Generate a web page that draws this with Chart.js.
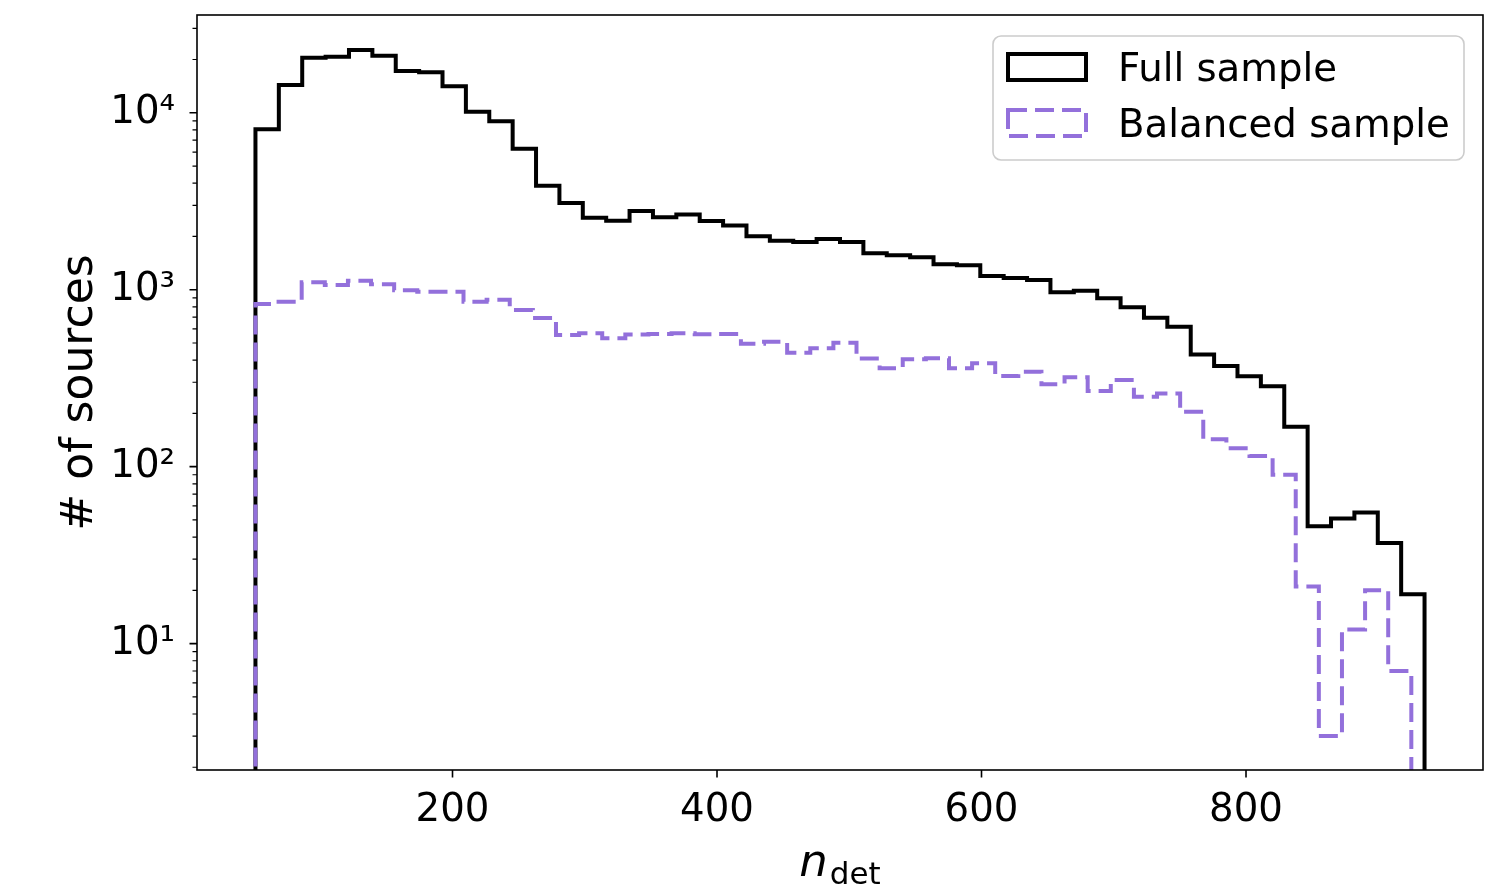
<!DOCTYPE html>
<html>
<head>
<meta charset="utf-8">
<script src="https://cdn.jsdelivr.net/npm/chart.js@4.4.1/dist/chart.umd.min.js"></script>
<style>
  html, body { margin: 0; padding: 0; background: #fff; }
  #wrap { width: 1485px; height: 887px; }
</style>
</head>
<body>
<div id="wrap"><canvas id="histChart" width="1485" height="887"></canvas></div>
<script>
// counts per bin (50 bins each)
var fullCounts = [
  8070, 14360, 20470, 20740, 22640, 21030, 17220, 16940, 14120, 10140,
  8950, 6270, 3870, 3090, 2550, 2455, 2785, 2565, 2665, 2445,
  2310, 2005, 1894, 1862, 1935, 1862, 1607, 1566, 1525, 1392,
  1375, 1196, 1165, 1135, 967, 987, 894, 795, 694, 618,
  431, 371, 324, 285, 168, 46, 51, 55, 37, 19
];
var balancedCounts = [
  830, 855, 1101, 1064, 1124, 1074, 993, 975, 975, 855,
  878, 767, 692, 555, 567, 531, 558, 562, 567, 560,
  562, 495, 508, 440, 467, 501, 409, 360, 404, 410,
  360, 384, 325, 344, 292, 320, 268, 309, 248, 259,
  204, 143, 127, 115, 90, 21, 3, 12, 20, 7
];
var fullRange = [51, 935];
var balancedRange = [51, 925];
var seriesLabels = ["Full sample", "Balanced sample"];

var xTicks = [200, 400, 600, 800];
var yMajor = [10, 100, 1000, 10000];
var yTickLabels = ["10\u00b9", "10\u00b2", "10\u00b3", "10\u2074"];
var xLimits = [6.8, 979.2];
var yLimits = [1.93, 35700];

var FONT = "DejaVu Sans";
var PURPLE = "#9370DB";

// minor log ticks 2..9 of each decade
var yMinor = [];
[1, 10, 100, 1000, 10000].forEach(function (d) {
    for (var k = 2; k <= 9; k++) {
        var v = d * k;
        if (v >= yLimits[0] && v <= yLimits[1]) yMinor.push(v);
    }
});

// outline of a step histogram: up from the floor, across each bin, back down
function stepPoints(counts, range) {
    var w = (range[1] - range[0]) / counts.length;
    var pts = [{ x: range[0], y: 1 }];
    for (var i = 0; i < counts.length; i++) {
        pts.push({ x: range[0] + i * w, y: counts[i] });
    }
    pts.push({ x: range[1], y: counts[counts.length - 1] });
    pts.push({ x: range[1], y: 1 });
    return pts;
}

var decorPlugin = {
    id: "decor",
    afterDraw: function (chart) {
        var ctx = chart.ctx;
        var a = chart.chartArea;
        var xs = chart.scales.x;
        var ys = chart.scales.y;
        ctx.save();

        // frame
        ctx.strokeStyle = "#000";
        ctx.lineWidth = 1.6;
        ctx.strokeRect(a.left, a.top, a.right - a.left, a.bottom - a.top);

        // ticks
        ctx.beginPath();
        xTicks.forEach(function (v) {
            var p = xs.getPixelForValue(v);
            ctx.moveTo(p, a.bottom);
            ctx.lineTo(p, a.bottom + 7.5);
        });
        yMajor.forEach(function (v) {
            var p = ys.getPixelForValue(v);
            ctx.moveTo(a.left, p);
            ctx.lineTo(a.left - 7.5, p);
        });
        ctx.stroke();
        ctx.lineWidth = 1.2;
        ctx.beginPath();
        yMinor.forEach(function (v) {
            var p = ys.getPixelForValue(v);
            ctx.moveTo(a.left, p);
            ctx.lineTo(a.left - 4.5, p);
        });
        ctx.stroke();

        // axis titles
        ctx.fillStyle = "#000";
        ctx.textBaseline = "alphabetic";
        ctx.font = "italic 45px '" + FONT + "'";
        var nW = ctx.measureText("n").width;
        ctx.font = "31px '" + FONT + "'";
        var subW = ctx.measureText("det").width;
        var cx = (a.left + a.right) / 2;
        var x0 = cx - (nW + 2 + subW) / 2;
        ctx.font = "italic 45px '" + FONT + "'";
        ctx.textAlign = "left";
        ctx.fillText("n", x0, 876);
        ctx.font = "31px '" + FONT + "'";
        ctx.fillText("det", x0 + nW + 2, 884);

        ctx.save();
        ctx.translate(92, (a.top + a.bottom) / 2);
        ctx.rotate(-Math.PI / 2);
        ctx.textAlign = "center";
        ctx.font = "44px '" + FONT + "'";
        ctx.fillText("# of sources", 0, 0);
        ctx.restore();

        // legend
        var bx = a.right - 490, by = a.top + 21, bw = 471, bh = 124, r = 8;
        ctx.beginPath();
        ctx.moveTo(bx + r, by);
        ctx.lineTo(bx + bw - r, by);
        ctx.arcTo(bx + bw, by, bx + bw, by + r, r);
        ctx.lineTo(bx + bw, by + bh - r);
        ctx.arcTo(bx + bw, by + bh, bx + bw - r, by + bh, r);
        ctx.lineTo(bx + r, by + bh);
        ctx.arcTo(bx, by + bh, bx, by + bh - r, r);
        ctx.lineTo(bx, by + r);
        ctx.arcTo(bx, by, bx + r, by, r);
        ctx.closePath();
        ctx.fillStyle = "rgba(255,255,255,0.8)";
        ctx.fill();
        ctx.strokeStyle = "#cccccc";
        ctx.lineWidth = 1.6;
        ctx.stroke();

        var rows = [by + 31, by + 87];
        chart.data.datasets.slice().sort(function (p, q) { return p.legendIndex - q.legendIndex; })
            .forEach(function (ds, i) {
                var cy = rows[i];
                ctx.fillStyle = "#fff";
                ctx.fillRect(bx + 15, cy - 13, 78, 26);
                ctx.strokeStyle = ds.borderColor;
                ctx.lineWidth = ds.borderWidth;
                ctx.lineJoin = "miter";
                ctx.setLineDash(ds.borderDash || []);
                ctx.strokeRect(bx + 15, cy - 13, 78, 26);
                ctx.setLineDash([]);
                ctx.fillStyle = "#000";
                ctx.font = "38.7px '" + FONT + "'";
                ctx.textAlign = "left";
                ctx.fillText(ds.label, bx + 125, cy + 14);
            });
        ctx.restore();
    }
};

var ctx = document.getElementById("histChart").getContext("2d");
var histChart = new Chart(ctx, {
    type: "line",
    data: {
        datasets: [{
            label: seriesLabels[0],
            legendIndex: 0,
            data: stepPoints(fullCounts, fullRange),
            borderColor: "#000000",
            borderWidth: 4,
            stepped: "before",
            fill: false,
            pointRadius: 0,
            borderJoinStyle: "miter",
            borderCapStyle: "butt",
            clip: 0,
            order: 2
        }, {
            label: seriesLabels[1],
            legendIndex: 1,
            data: stepPoints(balancedCounts, balancedRange),
            borderColor: PURPLE,
            borderWidth: 4,
            borderDash: [19, 8],
            stepped: "before",
            fill: false,
            pointRadius: 0,
            borderJoinStyle: "miter",
            borderCapStyle: "butt",
            clip: 0,
            order: 1
        }]
    },
    options: {
        responsive: false,
        animation: false,
        events: [],
        layout: { padding: { top: 15, right: 2, bottom: 0, left: 0 } },
        scales: {
            x: {
                type: "linear",
                min: xLimits[0],
                max: xLimits[1],
                afterBuildTicks: function (axis) {
                    axis.ticks = xTicks.map(function (v) { return { value: v }; });
                },
                afterFit: function (s) {
                    s.height = 117;
                    s.paddingLeft = 0;
                    s.paddingRight = 0;
                },
                grid: { display: false, drawTicks: false },
                border: { display: false },
                ticks: {
                    autoSkip: false,
                    maxRotation: 0,
                    padding: 18,
                    color: "#000",
                    font: { family: FONT, size: 38.7 },
                    callback: function (v) { return String(v); }
                }
            },
            y: {
                type: "logarithmic",
                min: yLimits[0],
                max: yLimits[1],
                afterBuildTicks: function (axis) {
                    axis.ticks = yMajor.map(function (v) { return { value: v }; });
                },
                afterFit: function (s) {
                    s.width = 197;
                    s.paddingTop = 0;
                    s.paddingBottom = 0;
                },
                grid: { display: false, drawTicks: false },
                border: { display: false },
                ticks: {
                    autoSkip: false,
                    padding: 22,
                    color: "#000",
                    font: { family: FONT, size: 38.7 },
                    callback: function (v) {
                        var i = yMajor.indexOf(v);
                        return i >= 0 ? yTickLabels[i] : "";
                    }
                }
            }
        },
        plugins: {
            legend: { display: false },
            tooltip: { enabled: false }
        }
    },
    plugins: [decorPlugin]
});
</script>
</body>
</html>
